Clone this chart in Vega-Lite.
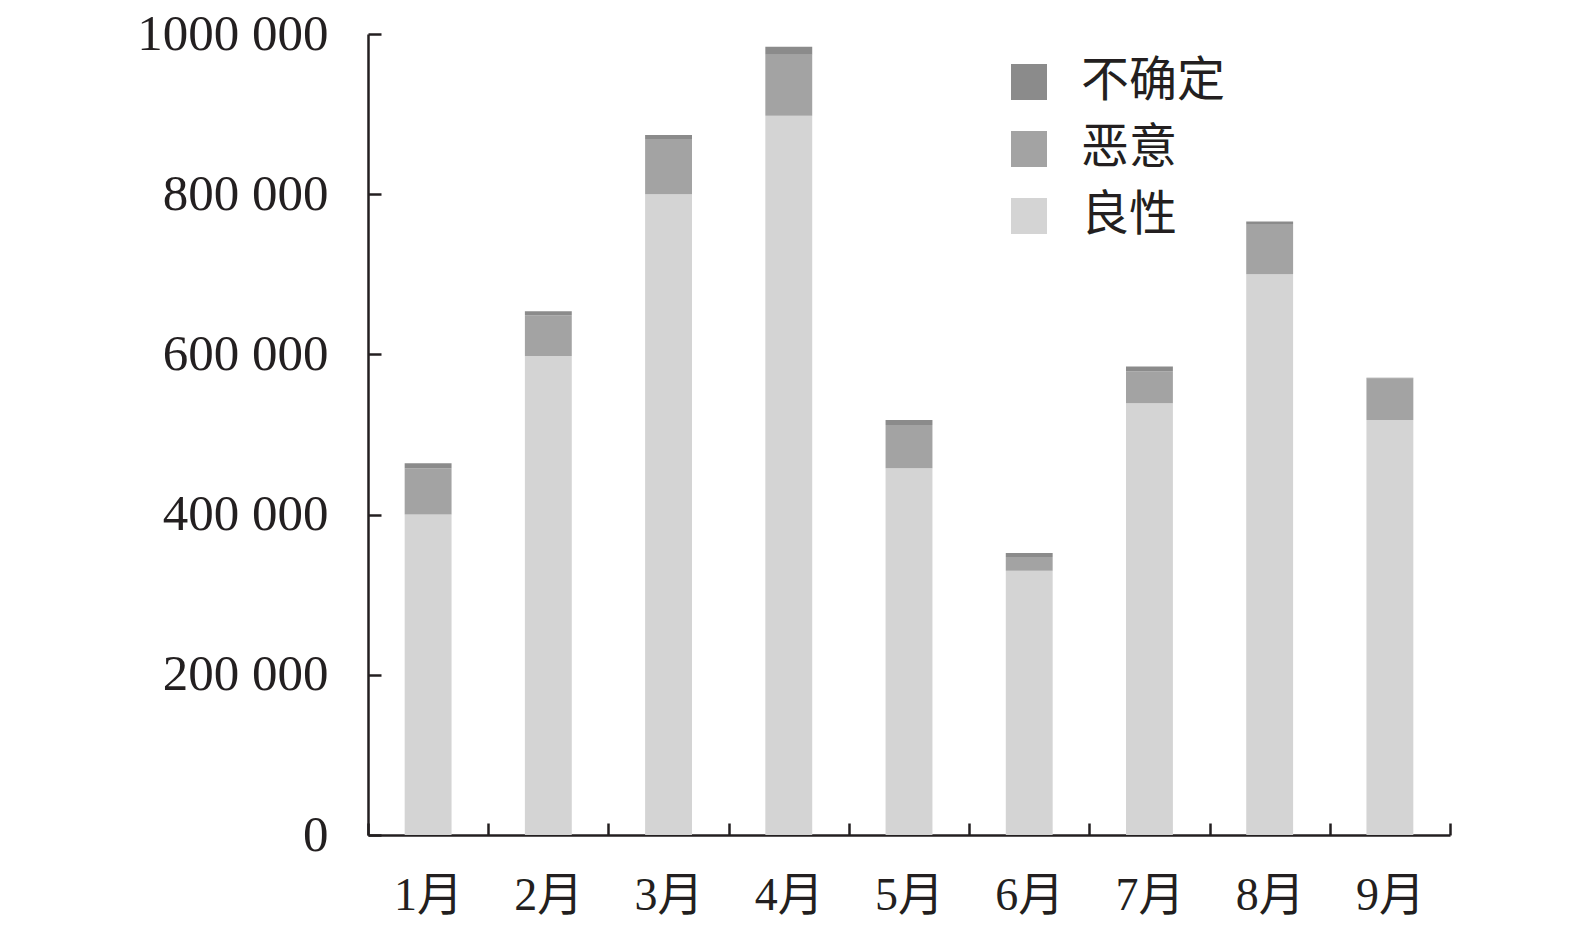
{
  "$schema": "https://vega.github.io/schema/vega-lite/v6.json",
  "autosize": {"type": "none"},
  "width": 1082,
  "height": 801,
  "padding": {"left": 368, "top": 34, "right": 125, "bottom": 102},
  "background": "white",
  "config": {
    "view": {"stroke": null},
    "font": "Liberation Serif, Noto Sans CJK SC",
    "axis": {
      "domainColor": "#231f20",
      "domainWidth": 2.5,
      "tickColor": "#231f20",
      "tickWidth": 2.5,
      "labelColor": "#231f20",
      "labelFont": "Liberation Serif, Noto Sans CJK SC",
      "labelLimit": 400,
      "grid": false,
      "title": null
    }
  },
  "data": {
    "values": [
      {"月份": "1月", "类别": "良性", "数量": 400000},
      {"月份": "1月", "类别": "恶意", "数量": 58000},
      {"月份": "1月", "类别": "不确定", "数量": 6000},
      {"月份": "2月", "类别": "良性", "数量": 598000},
      {"月份": "2月", "类别": "恶意", "数量": 51000},
      {"月份": "2月", "类别": "不确定", "数量": 5000},
      {"月份": "3月", "类别": "良性", "数量": 800000},
      {"月份": "3月", "类别": "恶意", "数量": 69000},
      {"月份": "3月", "类别": "不确定", "数量": 5000},
      {"月份": "4月", "类别": "良性", "数量": 898000},
      {"月份": "4月", "类别": "恶意", "数量": 76000},
      {"月份": "4月", "类别": "不确定", "数量": 10000},
      {"月份": "5月", "类别": "良性", "数量": 458000},
      {"月份": "5月", "类别": "恶意", "数量": 54000},
      {"月份": "5月", "类别": "不确定", "数量": 6000},
      {"月份": "6月", "类别": "良性", "数量": 330000},
      {"月份": "6月", "类别": "恶意", "数量": 17000},
      {"月份": "6月", "类别": "不确定", "数量": 5000},
      {"月份": "7月", "类别": "良性", "数量": 539000},
      {"月份": "7月", "类别": "恶意", "数量": 40000},
      {"月份": "7月", "类别": "不确定", "数量": 6000},
      {"月份": "8月", "类别": "良性", "数量": 700000},
      {"月份": "8月", "类别": "恶意", "数量": 62000},
      {"月份": "8月", "类别": "不确定", "数量": 4000},
      {"月份": "9月", "类别": "良性", "数量": 518000},
      {"月份": "9月", "类别": "恶意", "数量": 52000},
      {"月份": "9月", "类别": "不确定", "数量": 1000}
    ]
  },
  "mark": {"type": "bar", "width": {"band": 0.39}},
  "encoding": {
    "x": {
      "field": "月份",
      "type": "nominal",
      "sort": null,
      "scale": {"paddingInner": 0, "paddingOuter": 0},
      "axis": {
        "labelAngle": 0,
        "labelFontSize": 46,
        "tickBand": "extent",
        "tickSize": -12,
        "labelPadding": 50
      }
    },
    "y": {
      "field": "数量",
      "type": "quantitative",
      "stack": "zero",
      "scale": {"domain": [0, 1000000], "nice": false},
      "axis": {
        "values": [0, 200000, 400000, 600000, 800000, 1000000],
        "labelExpr": "datum.value >= 1000000 ? '1000 000' : datum.value == 0 ? '0' : format(datum.value / 1000, 'd') + ' 000'",
        "labelFontSize": 51,
        "tickSize": -13,
        "labelPadding": 53
      }
    },
    "color": {
      "field": "类别",
      "type": "nominal",
      "scale": {
        "domain": ["不确定", "恶意", "良性"],
        "range": ["#8b8b8b", "#a3a3a3", "#d4d4d4"]
      },
      "legend": {
        "title": null,
        "orient": "none",
        "legendX": 637,
        "legendY": 24,
        "symbolType": "square",
        "symbolSize": 1296,
        "symbolStrokeWidth": 0,
        "symbolOpacity": 1,
        "labelFont": "Liberation Serif, Noto Sans CJK SC",
        "labelFontSize": 48,
        "labelColor": "#231f20",
        "labelOffset": 28,
        "rowPadding": 19
      }
    },
    "order": {"field": "类别", "sort": "descending"}
  }
}
